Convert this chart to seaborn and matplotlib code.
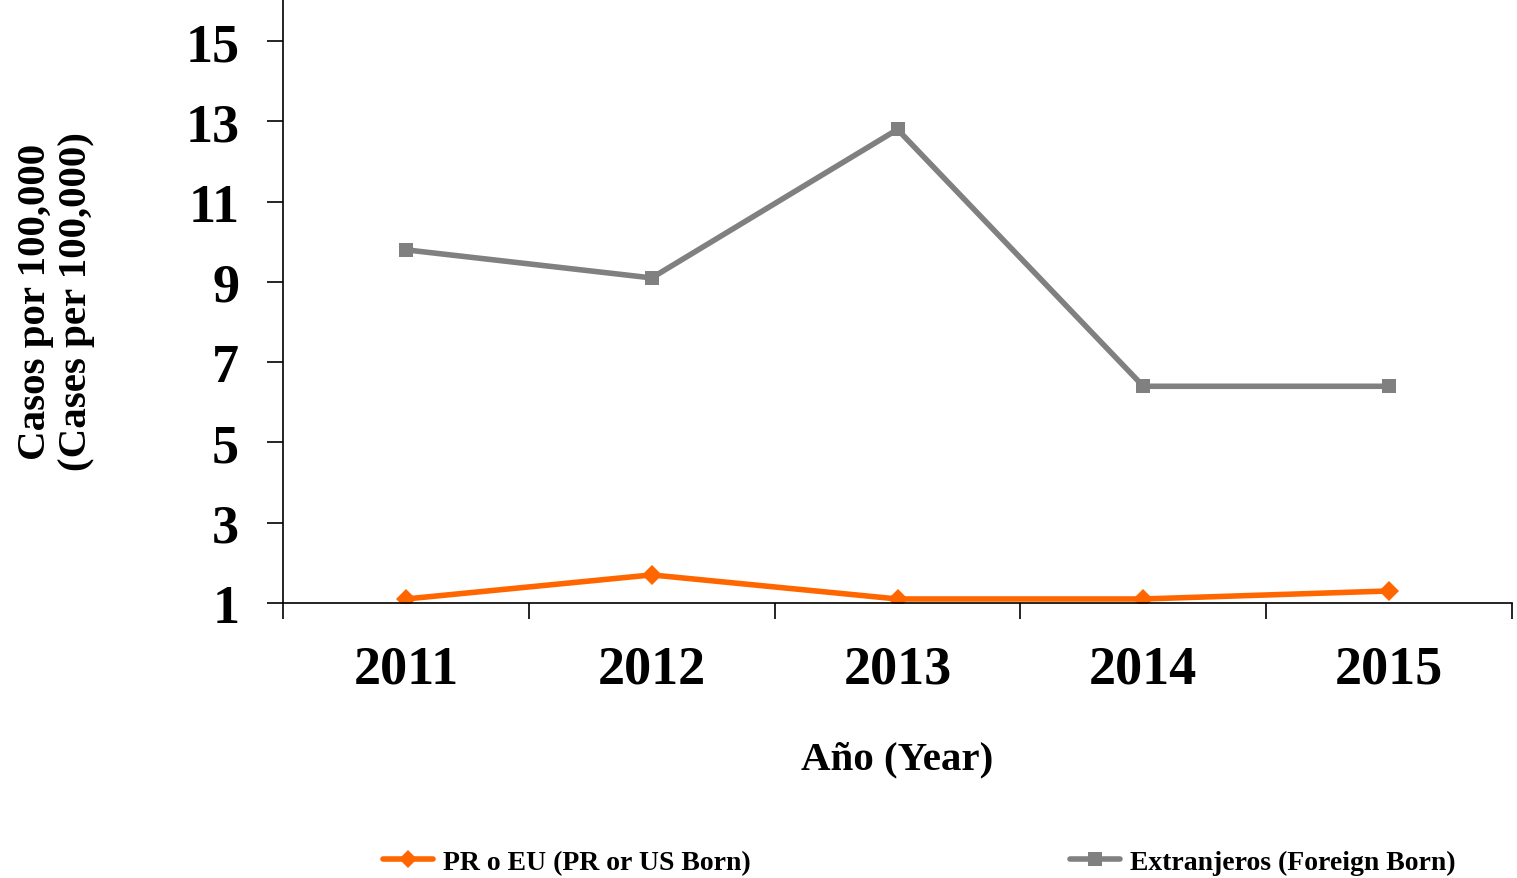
import pandas as pd
import seaborn as sns
import matplotlib.pyplot as plt
from matplotlib.ticker import FixedLocator

sns.set_theme(style="ticks")
plt.rcParams['font.family'] = ['Liberation Serif', 'DejaVu Serif']
plt.rcParams['font.weight'] = 'bold'
for key in ['text.color', 'axes.labelcolor', 'xtick.color', 'ytick.color']:
    plt.rcParams[key] = 'black'

# data
years = ["2011", "2012", "2013", "2014", "2015"]
pr_us_born = [1.1, 1.7, 1.1, 1.1, 1.3]
foreign_born = [9.8, 9.1, 12.8, 6.4, 6.4]
series_names = ["PR o EU (PR or US Born)", "Extranjeros (Foreign Born)"]
y_ticks = [1, 3, 5, 7, 9, 11, 13, 15]

df = pd.DataFrame({
    "year": years * 2,
    "rate": pr_us_born + foreign_born,
    "series": [series_names[0]] * len(years) + [series_names[1]] * len(years),
})

fig = plt.figure(figsize=(15.17, 8.79), dpi=100)
ax = fig.add_axes([283 / 1517, 1 - 604 / 879, (1512 - 283) / 1517, 604 / 879])

sns.lineplot(data=df, x="year", y="rate", hue="series", style="series",
             palette={series_names[0]: "#FF6600", series_names[1]: "#808080"},
             markers={series_names[0]: "D", series_names[1]: "s"},
             dashes=False, linewidth=4, markersize=10.5, markeredgewidth=0,
             ax=ax, legend=False)

ax.set_xlim(-0.5, len(years) - 0.5)
ax.set_ylim(1, 16.05)
ax.set_yticks(y_ticks)
ax.set_yticklabels([str(t) for t in y_ticks])
ax.xaxis.set_minor_locator(FixedLocator([i - 0.5 for i in range(len(years) + 1)]))

sns.despine(ax=ax)
for s in ["left", "bottom"]:
    ax.spines[s].set_linewidth(1.2)
    ax.spines[s].set_color("black")

ax.tick_params(axis="y", which="major", direction="out", length=11.5, width=1.2,
               color="black", labelsize=39, pad=20)
ax.tick_params(axis="x", which="major", length=0, labelsize=39, pad=30)
ax.tick_params(axis="x", which="minor", direction="out", length=11.5, width=1.2,
               color="black")
for lab in ax.get_xticklabels() + ax.get_yticklabels():
    lab.set_fontweight("bold")

ax.set_xlabel("Año (Year)", fontsize=29.5, fontweight="bold")
ax.xaxis.set_label_coords(0.5, -0.228)
ax.set_ylabel("Casos por 100,000\n(Cases per 100,000)", fontsize=29.5,
              fontweight="bold", linespacing=1.15)
ax.yaxis.set_label_coords(-0.153, 0.5)
ax.grid(False)

handles = [
    plt.Line2D([], [], color="#FF6600", lw=4, marker="D", ms=9.5, mew=0),
    plt.Line2D([], [], color="#808080", lw=4, marker="s", ms=10.5, mew=0),
]
fig.legend(handles, series_names, loc="center", bbox_to_anchor=(0.606, 0.018),
           ncol=2, frameon=False, prop={"size": 20, "weight": "bold"},
           handlelength=1.8, handletextpad=0.35, columnspacing=11.5)

fig.savefig("out.png", dpi=100, facecolor="white")
